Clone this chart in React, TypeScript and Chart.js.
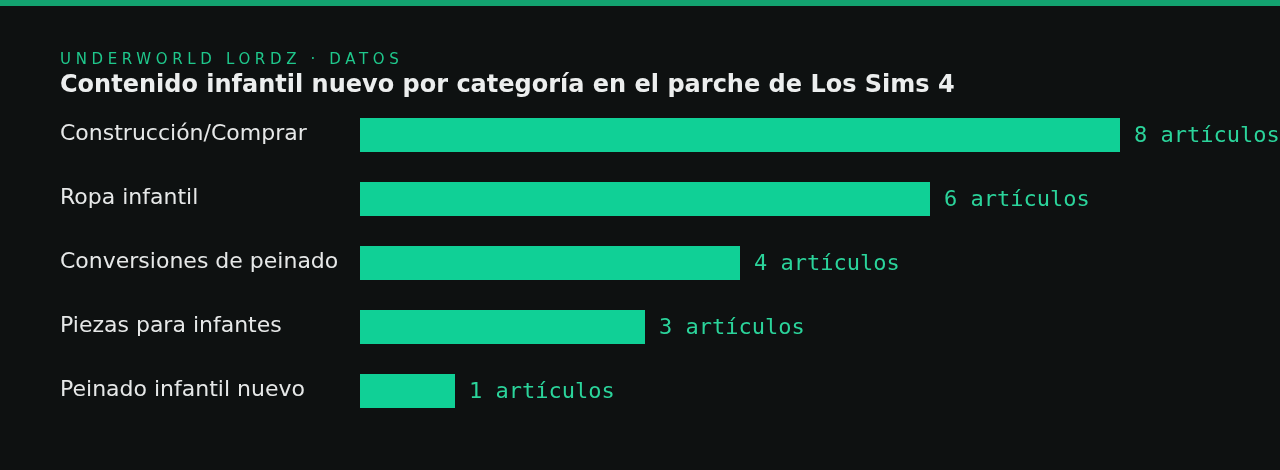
import React, { useEffect, useRef } from "react";
import { Chart, registerables } from "chart.js";

Chart.register(...registerables);

const categories = [
  "Construcción/Comprar",
  "Ropa infantil",
  "Conversiones de peinado",
  "Piezas para infantes",
  "Peinado infantil nuevo",
];
const itemCounts = [8, 6, 4, 3, 1];
const valueSuffix = " artículos";
const kicker = "UNDERWORLD LORDZ · DATOS";
const title = "Contenido infantil nuevo por categoría en el parche de Los Sims 4";

const BG = "#0e1111";
const BAR = "#10d096";
const VALUE_TEXT = "#2bd49b";
const LABEL_TEXT = "#e6e8e8";

export default function App() {
  const canvasRef = useRef<HTMLCanvasElement | null>(null);

  useEffect(() => {
    document.body.style.margin = "0";
    document.body.style.background = BG;
    const canvas = canvasRef.current;
    if (!canvas) return;

    const labelPlugin = {
      id: "sideLabels",
      afterDatasetsDraw(chart: any) {
        const ctx = chart.ctx;
        const meta = chart.getDatasetMeta(0);
        ctx.save();
        meta.data.forEach((bar: any, i: number) => {
          const cy = bar.y;
          ctx.font = "22px 'DejaVu Sans'";
          ctx.fillStyle = LABEL_TEXT;
          ctx.textAlign = "left";
          ctx.textBaseline = "alphabetic";
          ctx.fillText(String(chart.data.labels[i]), 60, cy + 5);
          ctx.font = "22px 'DejaVu Sans Mono'";
          ctx.fillStyle = VALUE_TEXT;
          ctx.fillText(
            String(chart.data.datasets[0].data[i]) + valueSuffix,
            bar.x + 14,
            cy + 7
          );
        });
        ctx.restore();
      },
    };

    const chart = new Chart(canvas, {
      type: "bar",
      data: {
        labels: categories,
        datasets: [
          {
            data: itemCounts,
            backgroundColor: BAR,
            borderWidth: 0,
            barPercentage: 0.53,
            categoryPercentage: 1,
          },
        ],
      },
      options: {
        indexAxis: "y",
        animation: false,
        responsive: true,
        maintainAspectRatio: false,
        layout: { padding: { left: 360, right: 160, top: 103, bottom: 47 } },
        plugins: {
          legend: { display: false },
          tooltip: { enabled: false },
          title: { display: false },
        },
        scales: {
          x: { display: false, min: 0, max: 8 },
          y: { display: false },
        },
      },
      plugins: [labelPlugin],
    });
    return () => chart.destroy();
  }, []);

  return (
    <div
      style={{
        position: "relative",
        width: 1280,
        height: 470,
        background: BG,
        overflow: "hidden",
        fontFamily: "'DejaVu Sans', sans-serif",
      }}
    >
      <div
        style={{
          position: "absolute",
          left: 0,
          top: 0,
          width: 1280,
          height: 6,
          background: "#13a370",
        }}
      />
      <div style={{ position: "absolute", left: 0, top: 0, width: 1280, height: 470 }}>
        <canvas ref={canvasRef} />
      </div>
      <div
        style={{
          position: "absolute",
          left: 60,
          top: 52,
          fontSize: 15,
          lineHeight: "15px",
          letterSpacing: "4.65px",
          color: "#1fc88c",
          whiteSpace: "nowrap",
        }}
      >
        {kicker}
      </div>
      <div
        style={{
          position: "absolute",
          left: 60,
          top: 72,
          fontSize: 24,
          lineHeight: "24px",
          fontWeight: "bold",
          color: "#eceeee",
          whiteSpace: "nowrap",
        }}
      >
        {title}
      </div>
    </div>
  );
}
